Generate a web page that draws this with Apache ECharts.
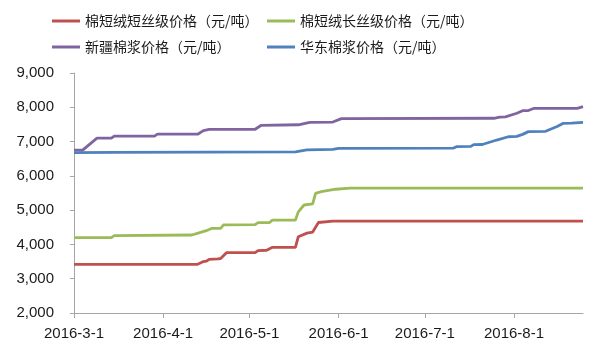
<!DOCTYPE html>
<html>
<head>
<meta charset="utf-8">
<script src="https://cdn.jsdelivr.net/npm/echarts@6/dist/echarts.min.js"></script>
<style>html,body{margin:0;padding:0;background:#fff;}#c{width:600px;height:363px;}</style>
</head>
<body>
<div id="c"></div>
<script>
var seriesNames = ['棉短绒短丝级价格（元/吨）','棉短绒长丝级价格（元/吨）','新疆棉浆价格（元/吨）','华东棉浆价格（元/吨）'];
var colors = ['#C0504D','#9BBB59','#8064A2','#4F81BD'];

var redDates = ['2016-03-01','2016-04-13','2016-04-15','2016-04-16','2016-04-17','2016-04-20','2016-04-21','2016-04-23','2016-05-03','2016-05-04','2016-05-07','2016-05-09','2016-05-17','2016-05-18','2016-05-21','2016-05-23','2016-05-25','2016-05-30','2016-08-25'];
var redValues = [3420,3420,3500,3510,3565,3580,3590,3760,3760,3820,3830,3915,3915,4225,4330,4360,4640,4680,4680];

var greenDates = ['2016-03-01','2016-03-14','2016-03-15','2016-04-11','2016-04-14','2016-04-16','2016-04-18','2016-04-21','2016-04-22','2016-05-03','2016-05-04','2016-05-08','2016-05-09','2016-05-17','2016-05-18','2016-05-20','2016-05-23','2016-05-24','2016-05-26','2016-05-31','2016-06-05','2016-08-25'];
var greenValues = [4200,4200,4255,4275,4350,4400,4470,4470,4570,4575,4635,4640,4710,4710,4950,5150,5180,5490,5540,5610,5640,5640];

var purpleDates = ['2016-03-01','2016-03-04','2016-03-09','2016-03-14','2016-03-15','2016-03-29','2016-03-30','2016-04-13','2016-04-15','2016-04-17','2016-05-03','2016-05-05','2016-05-18','2016-05-22','2016-05-30','2016-06-02','2016-07-25','2016-07-27','2016-07-29','2016-08-02','2016-08-04','2016-08-06','2016-08-08','2016-08-23','2016-08-25'];
var purpleValues = [6750,6750,7100,7100,7160,7160,7215,7215,7320,7355,7360,7470,7490,7560,7570,7670,7680,7715,7720,7825,7900,7905,7970,7970,8020];

var blueDates = ['2016-03-01','2016-03-15','2016-05-17','2016-05-21','2016-05-30','2016-06-01','2016-07-11','2016-07-12','2016-07-17','2016-07-18','2016-07-21','2016-07-26','2016-07-30','2016-08-02','2016-08-04','2016-08-06','2016-08-12','2016-08-16','2016-08-18','2016-08-21','2016-08-25'];
var blueValues = [6680,6685,6700,6760,6770,6800,6810,6850,6860,6910,6915,7045,7140,7150,7210,7290,7300,7440,7530,7540,7560];

var xMin = '2016-03-01', xMax = '2016-08-25';
var yMin = 2000, yMax = 9000, yStep = 1000;

function pairs(d, v){ return d.map(function(x,i){ return [x, v[i]]; }); }
var allData = [pairs(redDates,redValues), pairs(greenDates,greenValues), pairs(purpleDates,purpleValues), pairs(blueDates,blueValues)];

var legendPos = [[47,9],[262,9],[47,35],[262,35]];
var chart = echarts.init(document.getElementById('c'));
chart.setOption({
  animation: false,
  color: colors,
  legend: seriesNames.map(function(n,i){
    return {data:[n], left: legendPos[i][0], top: legendPos[i][1], icon:'rect', itemWidth:28, itemHeight:3, itemGap:0,
      textStyle:{fontFamily:'"Noto Sans CJK SC"', fontSize:14, color:'#1a1a1a'}};
  }),
  grid: {left:74, right:17, top:73, bottom:50},
  xAxis: {
    type:'time', min:xMin, max:xMax, splitNumber:6, minInterval: 28*86400000,
    axisLine:{lineStyle:{color:'#A6A6A6', width:1}},
    axisTick:{show:true, length:5, lineStyle:{color:'#A6A6A6'}},
    minorTick:{show:false},
    splitLine:{show:false},
    axisLabel:{showMaxLabel:false, margin:13, fontFamily:'"Liberation Sans", Arial', fontSize:15, color:'#1a1a1a',
      formatter:function(v){ var d=new Date(v); return d.getFullYear()+'-'+(d.getMonth()+1)+'-'+d.getDate(); }}
  },
  yAxis: {
    type:'value', min:yMin, max:yMax, interval:yStep,
    axisLine:{show:true, lineStyle:{color:'#A6A6A6'}},
    axisTick:{show:true, length:4, lineStyle:{color:'#A6A6A6'}},
    splitLine:{show:false},
    axisLabel:{margin:20, fontFamily:'"Liberation Sans", Arial', fontSize:15, color:'#1a1a1a',
      formatter:function(v){ return v.toLocaleString('en-US'); }}
  },
  series: seriesNames.map(function(n,i){
    return {name:n, type:'line', data:allData[i], showSymbol:false, symbol:'none', lineStyle:{width:2.8, color:colors[i]}, itemStyle:{color:colors[i]}};
  })
});
</script>
</body>
</html>
